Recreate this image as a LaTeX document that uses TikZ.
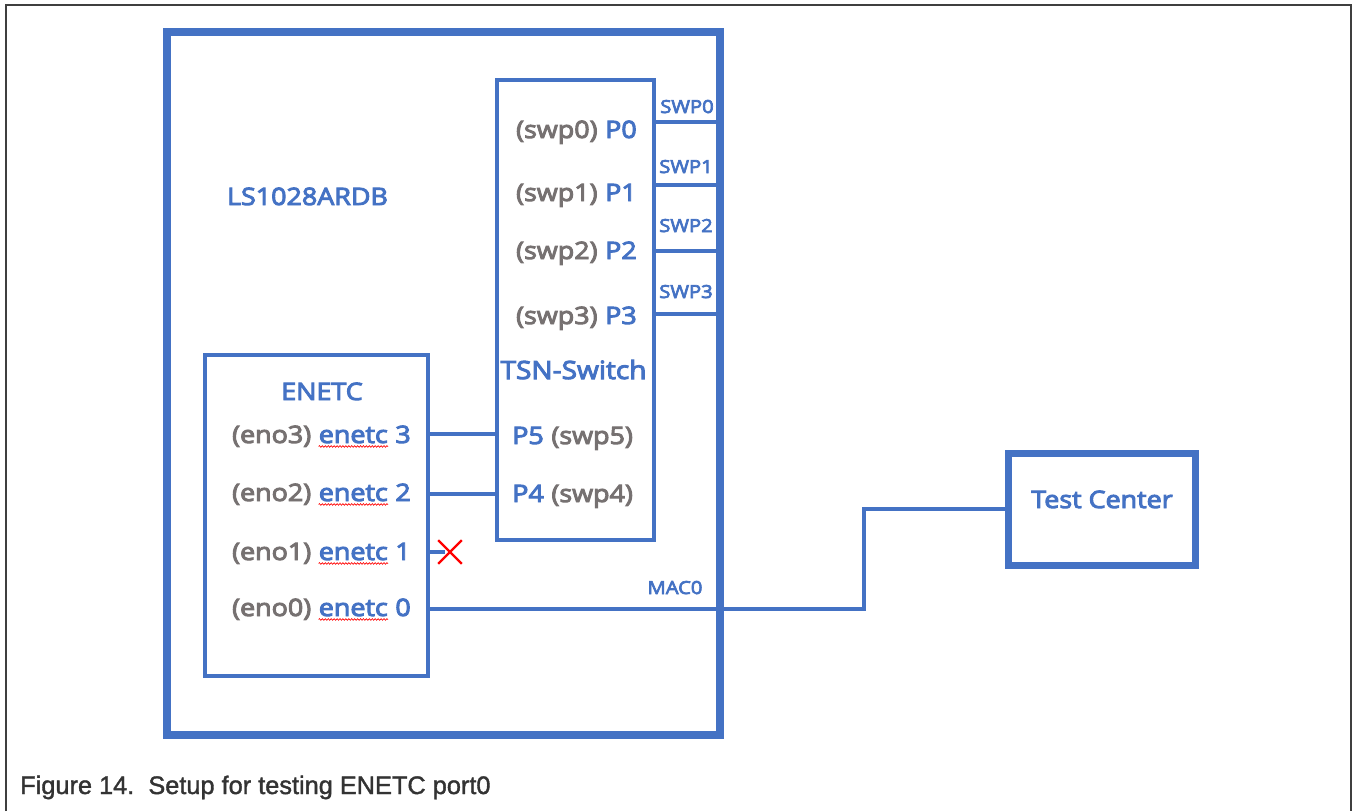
\documentclass[tikz,border=0pt]{standalone}
\usepackage{fontspec}
\setmainfont{Open Sans}[FakeStretch=1.12,FakeBold=4]
\newfontfamily\capfont{Liberation Sans}[FakeBold=1.5]
\usetikzlibrary{shapes.misc,decorations.pathmorphing}
\definecolor{ofblue}{HTML}{4472C4}
\definecolor{txtgray}{HTML}{767171}
\definecolor{framegray}{HTML}{3F3F3F}
\definecolor{capgray}{HTML}{333333}
\begin{document}
\begin{tikzpicture}[x=0.75pt,y=-0.75pt,
  box/.style={draw=ofblue, inner sep=0pt, outer sep=0pt},
  conn/.style={draw=ofblue, line width=3pt},
  bt/.style={text=ofblue, inner sep=0pt, font=\fontsize{18}{20}\selectfont},
  gt/.style={text=txtgray, inner sep=0pt, font=\fontsize{18}{20}\selectfont},
  st/.style={text=ofblue, inner sep=0pt, font=\fontsize{13.5}{15}\selectfont},
  wave/.style={draw=red, line width=0.5pt, decorate, decoration={snake, amplitude=0.6pt, segment length=2.2pt}},
  sp/.style={xshift=#1*5.3pt}
]
\useasboundingbox (0,0) rectangle (1353,811);
% outer frame
\draw[framegray, line width=1.5pt] (6,811) -- (6,5) -- (1351,5) -- (1351,811);

% boxes
\node[box, line width=6pt, minimum width=414.75pt, minimum height=527.25pt] (ls) at (443.5,383) {};
\node[box, line width=3pt, minimum width=117.75pt, minimum height=345pt] (tsn) at (575.5,310) {};
\node[box, line width=3pt, minimum width=166.875pt, minimum height=240.75pt] (enetc) at (316.5,515.5) {};
\node[box, line width=5.25pt, minimum width=140.25pt, minimum height=84pt] (tc) at (1101.5,509) {};

% titles
\node[bt, anchor=base] (lsname) at (307.5,205) {LS1028ARDB};
\node[bt, anchor=base, font=\fontsize{18.8}{20}\selectfont] (tsnname) at (573.5,379) {TSN-Switch};
\node[bt, anchor=base] (enetcname) at (322,400) {ENETC};
\node[bt, anchor=base] (tcname) at (1102,508) {Test Center};

% switch ports P0-P3
\foreach \i/\y in {0/138,1/201,2/259,3/324}{
  \node[bt, anchor=base east] (p\i) at (637,\y) {P\i};
  \node[gt, anchor=base east] (sw\i) at ([sp=-1]p\i.base west) {(swp\i)};
}
% switch ports P5, P4
\node[bt, anchor=base west] (p5) at (512,444) {P5};
\node[gt, anchor=base west] (sw5) at ([sp=1]p5.base east) {(swp5)};
\node[bt, anchor=base west] (p4) at (512,502) {P4};
\node[gt, anchor=base west] (sw4) at ([sp=1]p4.base east) {(swp4)};

% SWP labels
\node[st, anchor=base] (lswp0) at (687,113) {SWP0};
\node[st, anchor=base] (lswp1) at (686,173) {SWP1};
\node[st, anchor=base] (lswp2) at (686,232) {SWP2};
\node[st, anchor=base] (lswp3) at (686,298) {SWP3};
\node[st, anchor=base] (lmac) at (675,594) {MAC0};

% enetc rows
\foreach \i/\y in {3/443,2/501,1/560,0/616}{
  \node[bt, anchor=base east] (en\i) at (411,\y) {\i};
  \node[bt, anchor=base east] (ew\i) at ([sp=-1]en\i.base west) {enetc};
  \node[gt, anchor=base east] (eg\i) at ([sp=-1]ew\i.base west) {(eno\i)};
  \draw[wave] ([yshift=-2.6pt]ew\i.base west) -- ([yshift=-2.6pt]ew\i.base east);
}

% switch uplinks
\foreach \i/\y in {0/122,1/185,2/251,3/314}{
  \coordinate (s\i) at (0,\y);
  \draw[conn] (tsn.east |- s\i) -- (ls.east |- s\i);
}

% enetc links
\coordinate (r3) at (0,434);
\coordinate (r2) at (0,494);
\coordinate (r1) at (0,552);
\coordinate (r0) at (0,609);
\draw[conn] (enetc.east |- r3) -- (tsn.west |- r3);
\draw[conn] (enetc.east |- r2) -- (tsn.west |- r2);
\node[cross out, draw=red, line width=1.8pt, minimum size=16pt, inner sep=0pt] (xmark) at (450,552) {};
\coordinate (stubend) at (445,552);
\draw[conn] (enetc.east |- r1) -- (stubend);
\coordinate (bend) at (864,509);
\draw[conn] (enetc.east |- r0) -| (bend) -- (tc.west);

% caption
\node[anchor=base west, inner sep=0pt, text=capgray, font=\capfont\fontsize{19}{22}\selectfont] (cap) at (20,794) {Figure 14.\ \ Setup for testing ENETC port0};
\end{tikzpicture}
\end{document}
